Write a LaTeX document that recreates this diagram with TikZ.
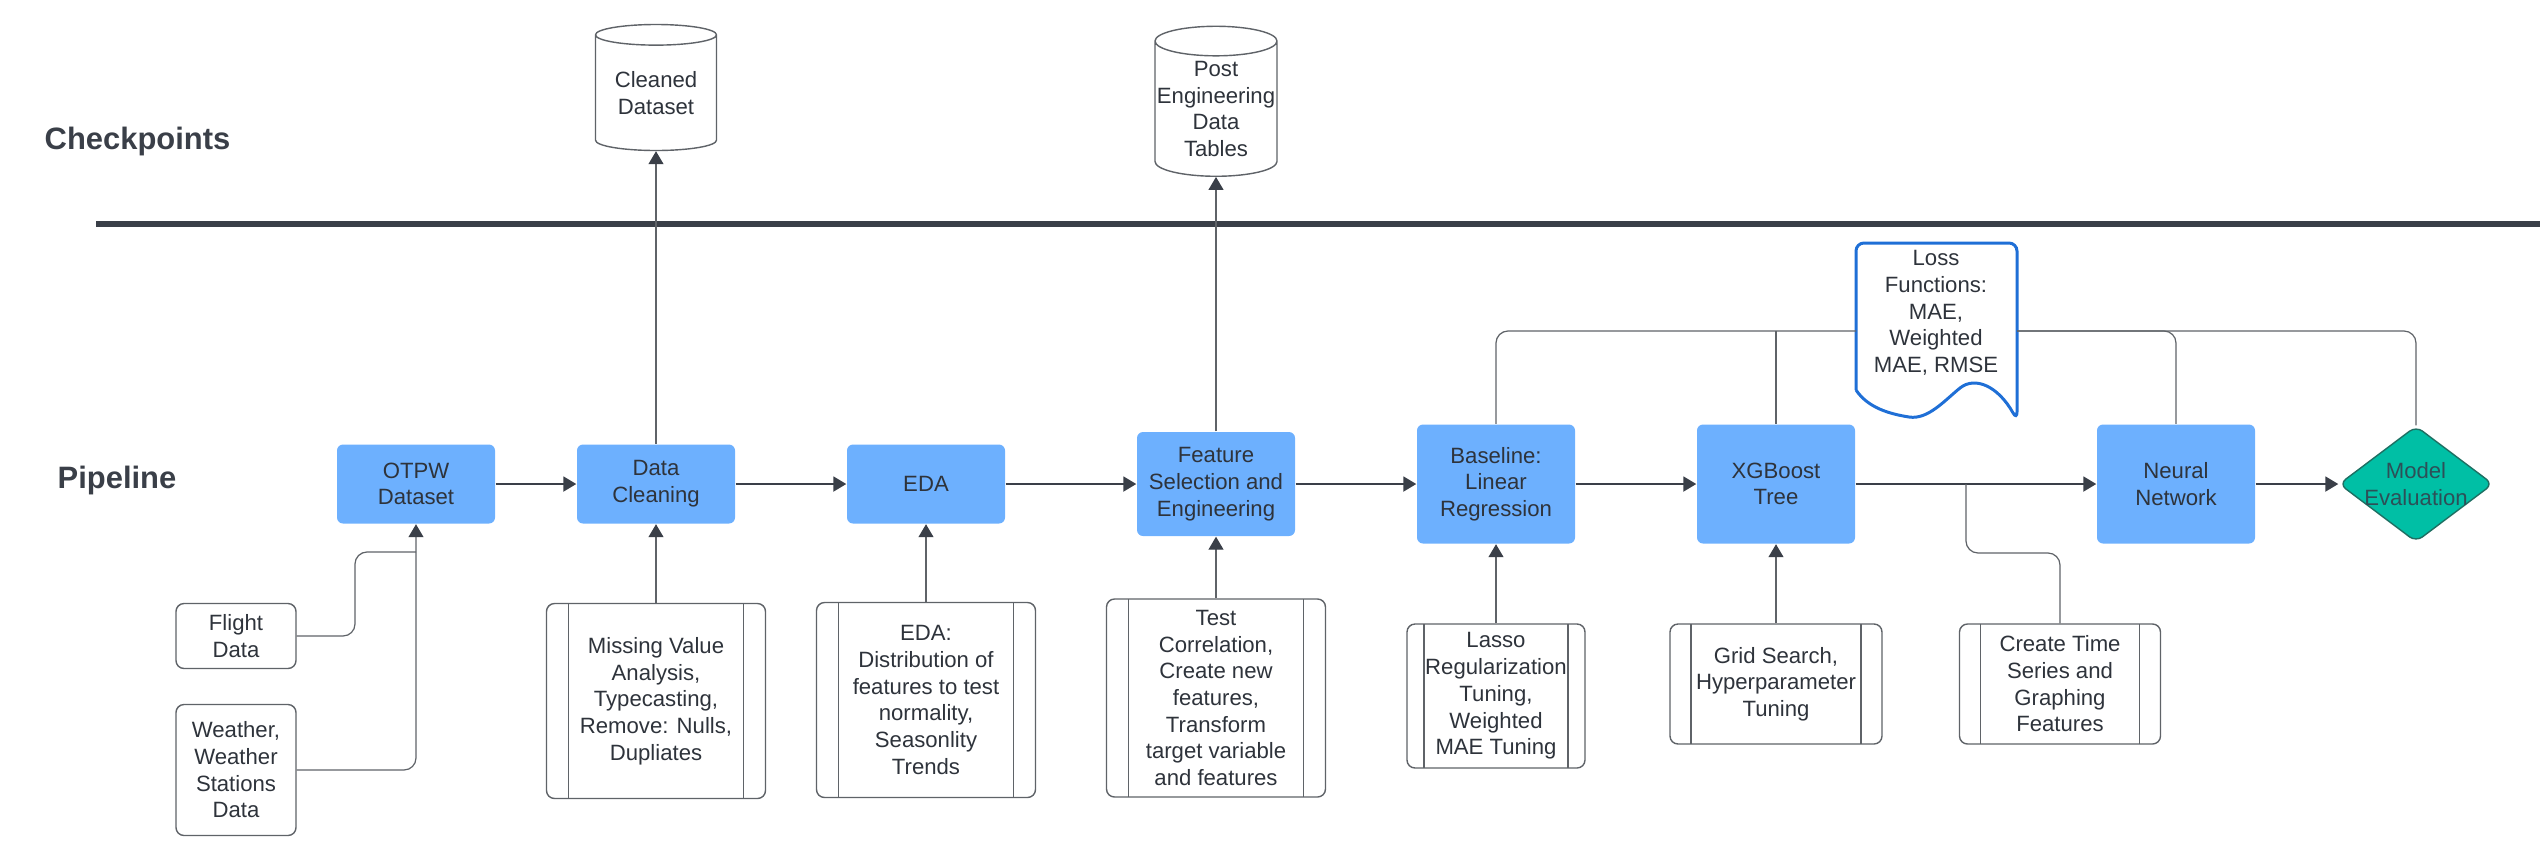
\documentclass[tikz,border=0pt]{standalone}
\usepackage{fontspec}
\setmainfont{Liberation Sans}
\usetikzlibrary{arrows.meta,shapes.geometric}
\definecolor{boxblue}{HTML}{6DB0FE}
\definecolor{ink}{HTML}{2E333B}
\definecolor{wire}{HTML}{5F6368}
\definecolor{tipink}{HTML}{3A3F48}
\definecolor{tealfill}{HTML}{00BFA5}
\definecolor{tealedge}{HTML}{1E6F62}
\definecolor{evalink}{HTML}{2D4F57}
\definecolor{docblue}{HTML}{1F6FD6}
\begin{document}
\begin{tikzpicture}[x=0.1mm, y=-0.1mm, font=\fontsize{6.3}{7.6}\selectfont, text=ink,
    stage/.style={fill=boxblue, rounded corners=0.6mm, align=center, inner sep=0pt,
      minimum width=15.8mm, minimum height=#1},
    stage/.default=7.9mm,
    src/.style={draw=wire, line width=0.4pt, rounded corners=0.8mm, fill=white,
      align=center, inner sep=0pt, minimum width=12mm},
    note/.style={draw=wire, line width=0.4pt, rounded corners=0.8mm, fill=white,
      align=center, inner sep=0pt,
      path picture={\draw[wire, line width=0.4pt, sharp corners]
        ([xshift=#1]path picture bounding box.north west) -- ([xshift=#1]path picture bounding box.south west)
        ([xshift=-#1]path picture bounding box.north east) -- ([xshift=-#1]path picture bounding box.south east);}},
    note/.default=2.2mm,
    store/.style={cylinder, shape border rotate=90, aspect=0.25, draw=wire, line width=0.4pt,
      fill=white, align=center, inner sep=0pt},
    judge/.style={diamond, aspect=1.32, draw=tealedge, line width=0.4pt, fill=tealfill,
      rounded corners=0.8mm, inner sep=0pt, minimum width=15.4mm, minimum height=11.6mm},
    title/.style={anchor=west, inner sep=0pt, font=\fontsize{8.8}{10}\selectfont\bfseries, text=tipink},
    link/.style={draw=wire, line width=0.35pt, rounded corners=1.2mm},
    flow/.style={link, -{Triangle[length=1.3mm, width=1.5mm, color=tipink]}},
    main/.style={draw=tipink, line width=0.55pt, -{Triangle[length=1.3mm, width=1.5mm]}}]
  \useasboundingbox (0,0) rectangle (2540,850);

  \node[title] (chk) at (44,141) {Checkpoints};
  \node[title] (pipe) at (57,480) {Pipeline};
  \draw[tipink, line width=1.7pt] (96,224) -- (2540,224);

  % pipeline
  \node[stage] (otpw) at (416,484) {OTPW\\Dataset};
  \node[stage] (clean) at (656,484) {Data\\Cleaning};
  \node[stage] (eda) at (926,484) {EDA};
  \node[stage=10.4mm] (feat) at (1216,484) {Feature\\Selection and\\Engineering};
  \node[stage=11.9mm] (base) at (1496,484) {Baseline:\\Linear\\Regression};
  \node[stage=11.9mm] (xgb) at (1776,484) {XGBoost\\Tree};
  \node[stage=11.9mm] (nn) at (2176,484) {Neural\\Network};
  \node[judge, label={[text=evalink, align=center]center:Model\\Evaluation}] (eval) at (2416,484) {};

  % checkpoints
  \node[store, minimum width=12.1mm, minimum height=12.6mm] (cleanstore) at (656,93) {Cleaned\\Dataset};
  \node[store, minimum width=12.2mm, minimum height=15mm] (poststore) at (1216,109) {Post\\Engineering\\Data\\Tables};

  % inputs and notes
  \node[src, minimum height=6.5mm] (flight) at (236,636) {Flight\\Data};
  \node[src, minimum height=13.1mm] (weather) at (236,770) {Weather,\\Weather\\Stations\\Data};
  \node[note, minimum width=21.9mm, minimum height=19.5mm] (missing) at (656,701)
    {Missing Value\\Analysis,\\Typecasting,\\Remove: Nulls,\\Dupliates};
  \node[note, minimum width=21.9mm, minimum height=19.5mm] (edanote) at (926,700)
    {EDA:\\Distribution of\\features to test\\normality,\\Seasonlity\\Trends};
  \node[note, minimum width=21.9mm, minimum height=19.8mm] (featnote) at (1216,698)
    {Test\\Correlation,\\Create new\\features,\\Transform\\target variable\\and features};
  \node[note=1.7mm, minimum width=17.8mm, minimum height=14.4mm] (lasso) at (1496,696)
    {Lasso\\Regularization\\Tuning,\\Weighted\\MAE Tuning};
  \node[note=2.1mm, minimum width=21.2mm, minimum height=12mm] (grid) at (1776,684)
    {Grid Search,\\Hyperparameter\\Tuning};
  \node[note=2.1mm, minimum width=20.1mm, minimum height=12mm] (timefeat) at (2060,684)
    {Create Time\\Series and\\Graphing\\Features};

  % loss functions
  \node[align=center] (loss) at (1936,313) {Loss\\Functions:\\MAE,\\Weighted\\MAE, RMSE};
  \draw[docblue, line width=0.85pt, rounded corners=0.8mm] (1856,390) -- (1856,243) -- (2017,243) -- (2017,420)
    [sharp corners] .. controls (1998,386) and (1975,376) .. (1960,388)
    .. controls (1945,400) and (1928,420) .. (1909,417)
    .. controls (1890,414) and (1868,408) .. (1856,390);
  \coordinate (lossw) at (1856,331);
  \coordinate (losse) at (2017,331);

  \foreach \a/\b in {otpw/clean, clean/eda, eda/feat, feat/base, base/xgb, xgb/nn, nn/eval}
    \draw[main] (\a.east) -- (\b.west);
  \foreach \a/\b in {missing/clean, edanote/eda, featnote/feat, lasso/base, grid/xgb}
    \draw[flow] (\a.north) -- (\b.south);
  \draw[flow] (clean.north) -- (cleanstore.south);
  \draw[flow] (feat.north) -- (poststore.south);

  \coordinate (merge) at (416,552);
  \draw[link] (flight.east) -| (355,552) -- (merge);
  \draw[flow] (weather.east) -| (otpw.south);

  \coordinate (tap) at (1966,484);
  \draw[link] (timefeat.north) |- ([yshift=-6.9mm]tap) -- (tap);

  \draw[link] (base.north) |- (lossw);
  \draw[link] (xgb.north) -- (xgb.north |- lossw);
  \draw[link] (losse) -| (nn.north);
  \draw[link] (losse) -| (eval.north);
\end{tikzpicture}
\end{document}
